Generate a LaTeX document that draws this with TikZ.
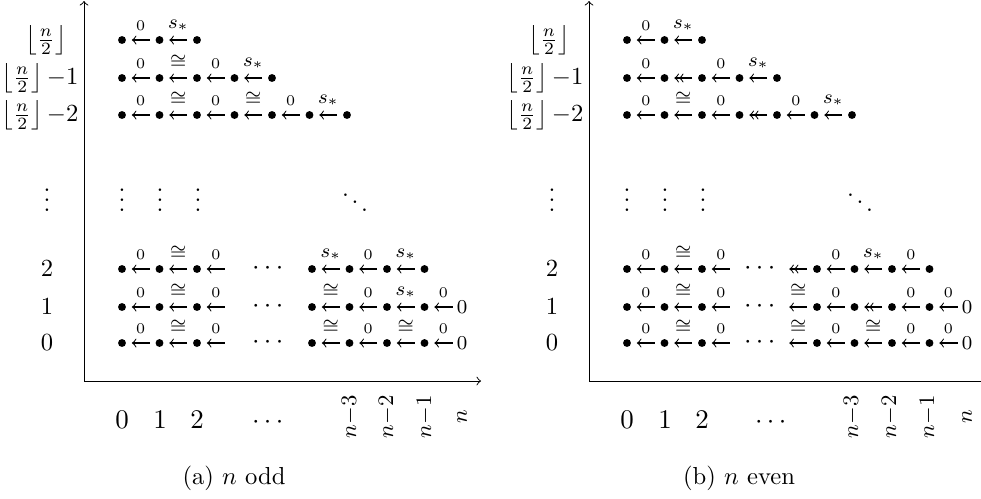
\documentclass[tikz,border=0pt]{standalone}
\usepackage{amsmath,amssymb}
\begin{document}
\begin{tikzpicture}[x=0.4065pt,y=-0.4065pt,
  bul/.style={circle,fill,inner sep=0pt,minimum size=3.2pt,outer sep=2.4pt},
  ar/.style={->,line width=0.42pt},
  arr/.style={->>,line width=0.42pt},
  axis/.style={->,line width=0.4pt},
  lz/.style={anchor=south,yshift=3.6pt,inner sep=0pt,font=\fontsize{6}{7}\selectfont},
  lc/.style={anchor=south,yshift=3.6pt,inner sep=0pt,font=\fontsize{8.5}{9}\selectfont},
  ls/.style={anchor=south,yshift=3.6pt,inner sep=0pt,font=\fontsize{8.5}{9}\selectfont},
  zer/.style={inner sep=0pt,outer sep=1.7pt,font=\fontsize{8}{9}\selectfont},
  rl/.style={inner sep=0pt,font=\fontsize{10}{12}\selectfont},
  vd/.style={anchor=base,inner sep=0pt,font=\fontsize{10}{12}\selectfont},
  cd/.style={inner sep=0pt,font=\fontsize{10.5}{12}\selectfont},
  xl/.style={anchor=base,inner sep=0pt,font=\fontsize{10.5}{12}\selectfont},
  nl/.style={rotate=90,inner sep=0pt,font=\fontsize{9}{10}\selectfont},
  capt/.style={anchor=base,inner sep=0pt,font=\fontsize{10}{12}\selectfont}]
\useasboundingbox (0,0) rectangle (981,498);

% ===================== (a) n odd =====================
\coordinate (aO) at (84,381);
\coordinate (aY) at (84,1);
\coordinate (aX) at (481,381);
\draw[axis] (aO) -- (aY);
\draw[axis] (aO) -- (aX);

\node[rl] (aL0) at (46,40) {$\left\lfloor\frac{n}{2}\right\rfloor$};
\node[rl] (aL1) at (40,78) {$\left\lfloor\frac{n}{2}\right\rfloor{-}1$};
\node[rl] (aL2) at (40,115) {$\left\lfloor\frac{n}{2}\right\rfloor{-}2$};
\node[vd] (aLd) at (47,211) {$\vdots$};
\node[rl] (aL3) at (47,269) {$2$};
\node[rl] (aL4) at (47,307) {$1$};
\node[rl] (aL5) at (47,343) {$0$};

% row floor(n/2)
\foreach \i/\x in {0/122,1/159.5,2/197} \node[bul] (a0\i) at (\x,40) {};
\draw[ar] (a01) -- node[lz] {$0$} (a00);
\draw[ar] (a02) -- node[ls] {$s_*$} (a01);
% row floor(n/2)-1
\foreach \i/\x in {0/122,1/159.5,2/197,3/234.5,4/272} \node[bul] (a1\i) at (\x,78) {};
\draw[ar] (a11) -- node[lz] {$0$} (a10);
\draw[ar] (a12) -- node[lc] {$\cong$} (a11);
\draw[ar] (a13) -- node[lz] {$0$} (a12);
\draw[ar] (a14) -- node[ls] {$s_*$} (a13);
% row floor(n/2)-2
\foreach \i/\x in {0/122,1/159.5,2/197,3/234.5,4/272,5/309.5,6/347} \node[bul] (a2\i) at (\x,115) {};
\draw[ar] (a21) -- node[lz] {$0$} (a20);
\draw[ar] (a22) -- node[lc] {$\cong$} (a21);
\draw[ar] (a23) -- node[lz] {$0$} (a22);
\draw[ar] (a24) -- node[lc] {$\cong$} (a23);
\draw[ar] (a25) -- node[lz] {$0$} (a24);
\draw[ar] (a26) -- node[ls] {$s_*$} (a25);

% dots
\foreach \i/\x in {0/122,1/160,2/198} \node[vd] (aV\i) at (\x,211) {$\vdots$};
\node[rl] (aDd) at (355,195) {$\ddots$};

% row 2
\foreach \i/\x in {0/122,1/159.5,2/197} \node[bul] (a3\i) at (\x,269) {};
\coordinate (a33) at (224.75,269);
\draw[ar] (a31) -- node[lz] {$0$} (a30);
\draw[ar] (a32) -- node[lc] {$\cong$} (a31);
\draw[ar] (a33) -- node[lz] {$0$} (a32);
\node[cd] (aC3) at (270,269) {$\cdots$};
\foreach \i/\x in {4/312,5/349.5,6/387,7/424.5} \node[bul] (a3\i) at (\x,269) {};
\draw[ar] (a35) -- node[ls] {$s_*$} (a34);
\draw[ar] (a36) -- node[lz] {$0$} (a35);
\draw[ar] (a37) -- node[ls] {$s_*$} (a36);

% row 1
\foreach \i/\x in {0/122,1/159.5,2/197} \node[bul] (a4\i) at (\x,307) {};
\coordinate (a43) at (224.75,307);
\draw[ar] (a41) -- node[lz] {$0$} (a40);
\draw[ar] (a42) -- node[lc] {$\cong$} (a41);
\draw[ar] (a43) -- node[lz] {$0$} (a42);
\node[cd] (aC4) at (270,307) {$\cdots$};
\foreach \i/\x in {4/312,5/349.5,6/387,7/424.5} \node[bul] (a4\i) at (\x,307) {};
\node[zer] (a48) at (462,307) {$0$};
\draw[ar] (a45) -- node[lc] {$\cong$} (a44);
\draw[ar] (a46) -- node[lz] {$0$} (a45);
\draw[ar] (a47) -- node[ls] {$s_*$} (a46);
\draw[ar] (a48) -- node[lz] {$0$} (a47);

% row 0
\foreach \i/\x in {0/122,1/159.5,2/197} \node[bul] (a5\i) at (\x,343) {};
\coordinate (a53) at (224.75,343);
\draw[ar] (a51) -- node[lz] {$0$} (a50);
\draw[ar] (a52) -- node[lc] {$\cong$} (a51);
\draw[ar] (a53) -- node[lz] {$0$} (a52);
\node[cd] (aC5) at (270,343) {$\cdots$};
\foreach \i/\x in {4/312,5/349.5,6/387,7/424.5} \node[bul] (a5\i) at (\x,343) {};
\node[zer] (a58) at (462,343) {$0$};
\draw[ar] (a55) -- node[lc] {$\cong$} (a54);
\draw[ar] (a56) -- node[lz] {$0$} (a55);
\draw[ar] (a57) -- node[lc] {$\cong$} (a56);
\draw[ar] (a58) -- node[lz] {$0$} (a57);

% x labels
\node[xl] (aX0) at (122,428) {$0$};
\node[xl] (aX1) at (160,428) {$1$};
\node[xl] (aX2) at (197,428) {$2$};
\node[xl] (aXd) at (270,428) {$\cdots$};
\node[nl] (aX3) at (350,417) {$n{-}3$};
\node[nl] (aX4) at (387,417) {$n{-}2$};
\node[nl] (aX5) at (425,417) {$n{-}1$};
\node[nl] (aX6) at (462,417) {$n$};
\node[capt] (aCap) at (234,484) {(a) $n$ odd};

% ===================== (b) n even =====================
\begin{scope}[shift={(505,0)}]
\coordinate (bO) at (84,381);
\coordinate (bY) at (84,1);
\coordinate (bX) at (481,381);
\draw[axis] (bO) -- (bY);
\draw[axis] (bO) -- (bX);

\node[rl] (bL0) at (44,40) {$\left\lfloor\frac{n}{2}\right\rfloor$};
\node[rl] (bL1) at (40,78) {$\left\lfloor\frac{n}{2}\right\rfloor{-}1$};
\node[rl] (bL2) at (40,115) {$\left\lfloor\frac{n}{2}\right\rfloor{-}2$};
\node[vd] (bLd) at (47,211) {$\vdots$};
\node[rl] (bL3) at (47,269) {$2$};
\node[rl] (bL4) at (47,307) {$1$};
\node[rl] (bL5) at (47,343) {$0$};

% row floor(n/2)
\foreach \i/\x in {0/122,1/159.5,2/197} \node[bul] (b0\i) at (\x,40) {};
\draw[ar] (b01) -- node[lz] {$0$} (b00);
\draw[ar] (b02) -- node[ls] {$s_*$} (b01);
% row floor(n/2)-1
\foreach \i/\x in {0/122,1/159.5,2/197,3/234.5,4/272} \node[bul] (b1\i) at (\x,78) {};
\draw[ar] (b11) -- node[lz] {$0$} (b10);
\draw[arr] (b12) -- (b11);
\draw[ar] (b13) -- node[lz] {$0$} (b12);
\draw[ar] (b14) -- node[ls] {$s_*$} (b13);
% row floor(n/2)-2
\foreach \i/\x in {0/122,1/159.5,2/197,3/234.5,4/272,5/309.5,6/347} \node[bul] (b2\i) at (\x,115) {};
\draw[ar] (b21) -- node[lz] {$0$} (b20);
\draw[ar] (b22) -- node[lc] {$\cong$} (b21);
\draw[ar] (b23) -- node[lz] {$0$} (b22);
\draw[arr] (b24) -- (b23);
\draw[ar] (b25) -- node[lz] {$0$} (b24);
\draw[ar] (b26) -- node[ls] {$s_*$} (b25);

% dots
\foreach \i/\x in {0/122,1/160,2/198} \node[vd] (bV\i) at (\x,211) {$\vdots$};
\node[rl] (bDd) at (355,195) {$\ddots$};

% row 2
\foreach \i/\x in {0/122,1/159.5,2/197} \node[bul] (b3\i) at (\x,269) {};
\coordinate (b33) at (224.75,269);
\draw[ar] (b31) -- node[lz] {$0$} (b30);
\draw[ar] (b32) -- node[lc] {$\cong$} (b31);
\draw[ar] (b33) -- node[lz] {$0$} (b32);
\node[cd] (bC3) at (257,269) {$\cdots$};
\coordinate (b3s) at (284.25,269);
\foreach \i/\x in {4/312,5/349.5,6/387,7/424.5} \node[bul] (b3\i) at (\x,269) {};
\draw[arr] (b34) -- (b3s);
\draw[ar] (b35) -- node[lz] {$0$} (b34);
\draw[ar] (b36) -- node[ls] {$s_*$} (b35);
\draw[ar] (b37) -- node[lz] {$0$} (b36);

% row 1
\foreach \i/\x in {0/122,1/159.5,2/197} \node[bul] (b4\i) at (\x,307) {};
\coordinate (b43) at (224.75,307);
\draw[ar] (b41) -- node[lz] {$0$} (b40);
\draw[ar] (b42) -- node[lc] {$\cong$} (b41);
\draw[ar] (b43) -- node[lz] {$0$} (b42);
\node[cd] (bC4) at (257,307) {$\cdots$};
\coordinate (b4s) at (284.25,307);
\foreach \i/\x in {4/312,5/349.5,6/387,7/424.5} \node[bul] (b4\i) at (\x,307) {};
\node[zer] (b48) at (462,307) {$0$};
\draw[ar] (b44) -- node[lc] {$\cong$} (b4s);
\draw[ar] (b45) -- node[lz] {$0$} (b44);
\draw[arr] (b46) -- (b45);
\draw[ar] (b47) -- node[lz] {$0$} (b46);
\draw[ar] (b48) -- node[lz] {$0$} (b47);

% row 0
\foreach \i/\x in {0/122,1/159.5,2/197} \node[bul] (b5\i) at (\x,343) {};
\coordinate (b53) at (224.75,343);
\draw[ar] (b51) -- node[lz] {$0$} (b50);
\draw[ar] (b52) -- node[lc] {$\cong$} (b51);
\draw[ar] (b53) -- node[lz] {$0$} (b52);
\node[cd] (bC5) at (257,343) {$\cdots$};
\coordinate (b5s) at (284.25,343);
\foreach \i/\x in {4/312,5/349.5,6/387,7/424.5} \node[bul] (b5\i) at (\x,343) {};
\node[zer] (b58) at (462,343) {$0$};
\draw[ar] (b54) -- node[lc] {$\cong$} (b5s);
\draw[ar] (b55) -- node[lz] {$0$} (b54);
\draw[ar] (b56) -- node[lc] {$\cong$} (b55);
\draw[ar] (b57) -- node[lz] {$0$} (b56);
\draw[ar] (b58) -- node[lz] {$0$} (b57);

% x labels
\node[xl] (bX0) at (122,428) {$0$};
\node[xl] (bX1) at (160,428) {$1$};
\node[xl] (bX2) at (197,428) {$2$};
\node[xl] (bXd) at (268,428) {$\cdots$};
\node[nl] (bX3) at (347,417) {$n{-}3$};
\node[nl] (bX4) at (385,417) {$n{-}2$};
\node[nl] (bX5) at (423,417) {$n{-}1$};
\node[nl] (bX6) at (462,417) {$n$};
\node[capt] (bCap) at (234,484) {(b) $n$ even};
\end{scope}
\end{tikzpicture}
\end{document}
